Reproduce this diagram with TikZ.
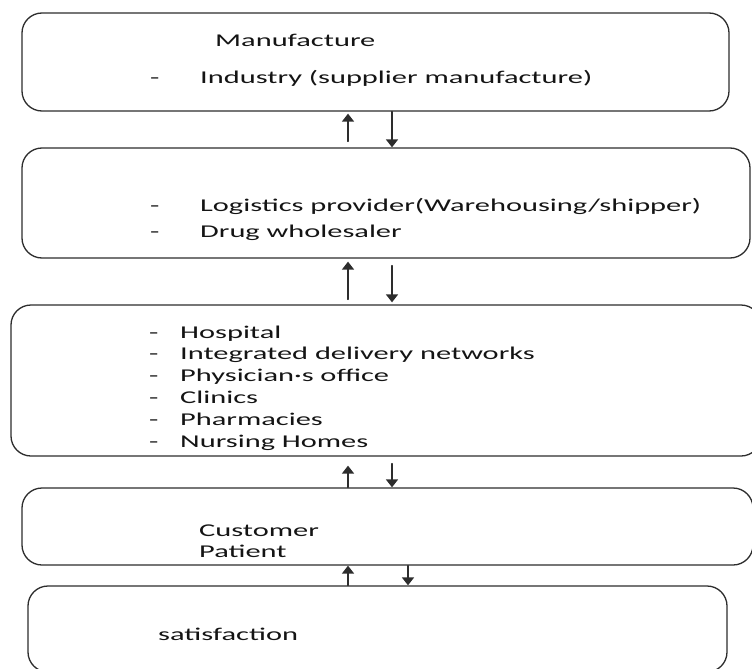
\documentclass[tikz,border=0pt]{standalone}
\usepackage{fontspec}
\setmainfont{Carlito}[FakeStretch=1.69]
\usetikzlibrary{arrows.meta}
\definecolor{cline}{RGB}{45,45,45}
\definecolor{ctext}{RGB}{20,20,20}
\newcommand{\itemdash}[1][50pt]{\makebox[#1][l]{-}}

\begin{document}
\begin{tikzpicture}[x=1pt,y=-1pt,>={Triangle[length=8pt,width=12pt]},line cap=round,
  box/.style={draw=cline,line width=1.3pt,rounded corners=20pt,inner sep=0pt},
  txt/.style={anchor=base west,inner sep=0pt,text=ctext,font=\fontsize{18}{22}\selectfont},
  flow/.style={->,line width=1.6pt,cline}]
\useasboundingbox (0,0) rectangle (752,669);
\clip (0,0) rectangle (752,669);
% ---------- boxes ----------
\node[box,minimum width=707pt,minimum height=98pt] (manuf) at (375.5,62) {};
\node[box,minimum width=728pt,minimum height=110pt] (logist) at (386,203) {};
\node[box,minimum width=750pt,minimum height=151pt] (care) at (386,380.5) {};
\node[box,minimum width=731pt,minimum height=77pt] (customer) at (387.5,526.5) {};
\node[box,minimum width=699pt,minimum height=86pt] (satisf) at (377.5,629) {};
% ---------- box texts ----------
\node[txt] (manuftitle) at (215,47) {Manufacture};
\node[txt] (industry) at (150,84) {\itemdash Industry (supplier manufacture)};
\node[txt] (logistline) at (150,211) {\itemdash Logistics provider(Warehousing/shipper)};
\node[txt] (drugline) at (150,237) {\itemdash Drug wholesaler};
\foreach \name [count=\i from 0] in {Hospital,Integrated delivery networks,Physician·s office,Clinics,Pharmacies,Nursing Homes}
  \node[txt] (careitem\i) at (149,{338+21.8*\i}) {\itemdash[31pt]\name};
\node[txt] (customerline) at (199,536) {Customer};
\node[txt] (patientline) at (199,557) {Patient};
\node[txt] (satisftext) at (158,640) {satisfaction};
% ---------- arrows ----------
\coordinate (upx) at (348,0);
\coordinate (downx) at (392,0);
\coordinate (downxlast) at (408,0);
\draw[flow,shorten <=6pt,shorten >=2pt] (logist.north -| upx) -- (manuf.south -| upx);
\draw[flow] (manuf.south -| downx) -- (logist.north -| downx);
\draw[flow,shorten <=5pt,shorten >=3pt] (care.north -| upx) -- (logist.south -| upx);
\draw[flow,shorten <=7pt,shorten >=2pt] (logist.south -| downx) -- (care.north -| downx);
\draw[flow,shorten >=9pt] (customer.north -| upx) -- (care.south -| upx);
\draw[flow,shorten <=7pt] (care.south -| downx) -- (customer.north -| downx);
\draw[flow] (satisf.north -| upx) -- (customer.south -| upx);
\draw[flow] (customer.south -| downxlast) -- (satisf.north -| downxlast);
\end{tikzpicture}
\end{document}
